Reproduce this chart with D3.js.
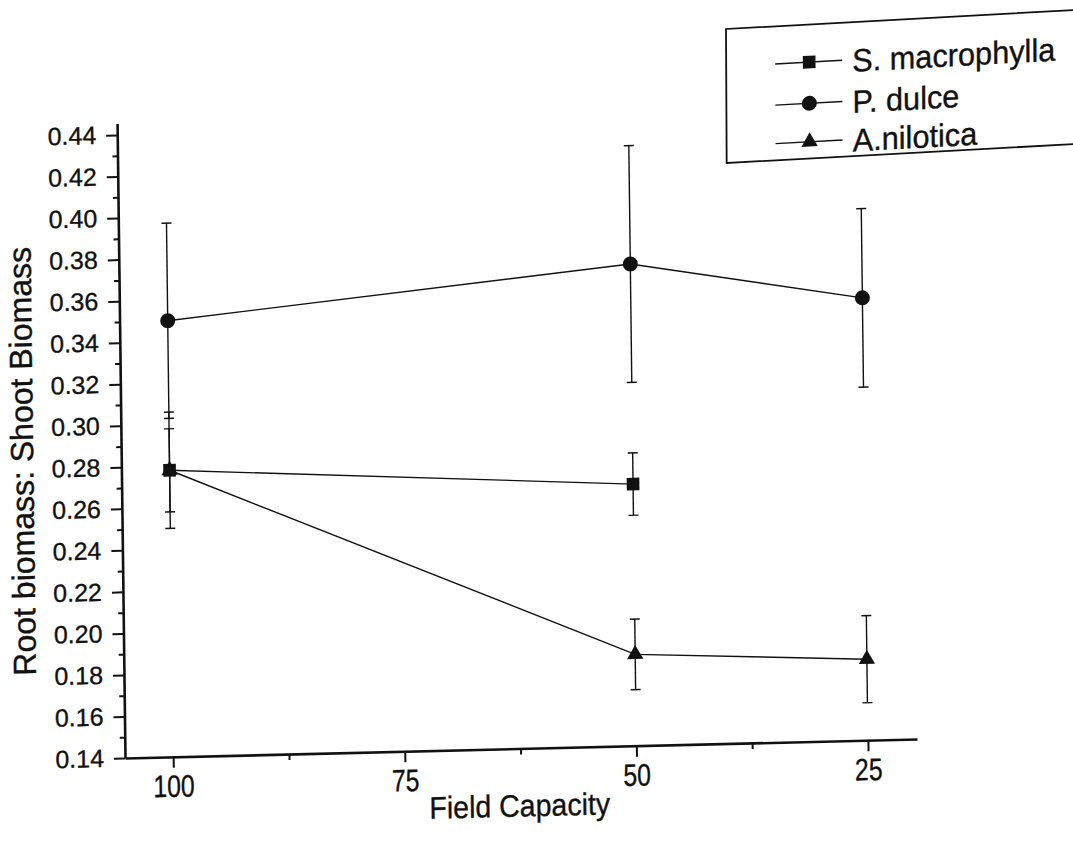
<!DOCTYPE html>
<html>
<head>
<meta charset="utf-8">
<script src="https://cdn.jsdelivr.net/npm/d3@7/dist/d3.min.js"></script>
<style>
  body { margin: 0; background: #fff; }
  svg text { font-family: "Liberation Sans", Arial, sans-serif; fill: #111; stroke: #111; stroke-width: 0.35px; }
</style>
</head>
<body>
<svg width="1073" height="850"></svg>
<script>
// values
const fieldCapacity = [100, 50, 25];
const seriesNames = ["S. macrophylla", "P. dulce", "A.nilotica"];
const sMacrophylla = [0.278, 0.266, null];
const sMacrophyllaErr = [0.020, 0.015, null];
const pDulce = [0.350, 0.372, 0.353];
const pDulceErr = [0.047, 0.057, 0.043];
const aNilotica = [0.278, 0.184, 0.179];
const aNiloticaErr = [0.028, 0.017, 0.021];

const xTicks = [100, 75, 50, 25];
const xMinorTicks = [87.5, 62.5, 37.5];
const yTicks = [0.14, 0.16, 0.18, 0.20, 0.22, 0.24, 0.26, 0.28, 0.30, 0.32, 0.34, 0.36, 0.38, 0.40, 0.42, 0.44];
const yMinorTicks = [0.15, 0.17, 0.19, 0.21, 0.23, 0.25, 0.27, 0.29, 0.31, 0.33, 0.35, 0.37, 0.39, 0.41, 0.43];

const svg = d3.select("svg");

const x = d3.scaleLinear().domain([105.2, 19.7]).range([125, 917]);
const y = d3.scaleLinear().domain([0.14, 0.4455]).range([758, 123.6]);

// the scan is slightly tilted, so the plot frame is skewed a little
const plot = svg.append("g")
    .attr("transform", "translate(125,758) matrix(1,-0.024,0.0125,1,0,0) translate(-125,-758)");

const series = [
    { name: seriesNames[0], values: sMacrophylla, errors: sMacrophyllaErr, symbol: d3.symbolSquare, size: 160 },
    { name: seriesNames[1], values: pDulce, errors: pDulceErr, symbol: d3.symbolCircle, size: 177 },
    { name: seriesNames[2], values: aNilotica, errors: aNiloticaErr, symbol: d3.symbolTriangle, size: 115 }
];

// axes
const yAxis = plot.append("g")
    .attr("transform", "translate(125,0)")
    .call(d3.axisLeft(y).tickValues(yTicks).tickSize(11).tickSizeOuter(0).tickPadding(10).tickFormat(d3.format(".2f")));
yAxis.select(".domain").attr("stroke", "#111").attr("stroke-width", 2.6);
yAxis.selectAll(".tick line").attr("stroke", "#111").attr("stroke-width", 2);
yAxis.selectAll(".tick text").attr("font-size", 25).attr("font-family", null);

const yMinor = plot.append("g")
    .attr("transform", "translate(125,0)")
    .call(d3.axisLeft(y).tickValues(yMinorTicks).tickSize(5).tickSizeOuter(0).tickFormat(""));
yMinor.select(".domain").remove();
yMinor.selectAll(".tick line").attr("stroke", "#111").attr("stroke-width", 2);

const xAxis = plot.append("g")
    .attr("transform", "translate(0,758)")
    .call(d3.axisBottom(x).tickValues(xTicks).tickSize(11).tickSizeOuter(0));
xAxis.select(".domain").attr("stroke", "#111").attr("stroke-width", 2.6);
xAxis.selectAll(".tick line").attr("stroke", "#111").attr("stroke-width", 2);
xAxis.selectAll(".tick text")
    .attr("font-size", 31)
    .attr("font-family", null)
    .attr("y", 40)
    .attr("dy", 0)
    .attr("transform", "scale(0.8,1)");

const xMinor = plot.append("g")
    .attr("transform", "translate(0,758)")
    .call(d3.axisBottom(x).tickValues(xMinorTicks).tickSize(6).tickSizeOuter(0).tickFormat(""));
xMinor.select(".domain").remove();
xMinor.selectAll(".tick line").attr("stroke", "#111").attr("stroke-width", 2);

// axis titles
plot.append("text")
    .attr("transform", "translate(37,459) rotate(-90)")
    .attr("text-anchor", "middle")
    .attr("font-size", 32)
    .text("Root biomass: Shoot Biomass");

plot.append("text")
    .attr("transform", "translate(519,826) scale(0.92,1)")
    .attr("text-anchor", "middle")
    .attr("font-size", 31)
    .text("Field Capacity");

// error bars, lines and markers
const line = d3.line()
    .defined(d => d.value !== null)
    .x(d => x(d.fc))
    .y(d => y(d.value));

series.forEach(s => {
    const pts = fieldCapacity.map((fc, i) => ({ fc: fc, value: s.values[i], err: s.errors[i] }))
        .filter(d => d.value !== null);

    const eb = plot.append("g")
        .attr("stroke", "#111")
        .attr("stroke-width", 1.4)
        .selectAll("g")
        .data(pts)
        .enter().append("g");
    eb.append("line")
        .attr("x1", d => x(d.fc)).attr("x2", d => x(d.fc))
        .attr("y1", d => y(d.value + d.err)).attr("y2", d => y(d.value - d.err));
    eb.append("line")
        .attr("x1", d => x(d.fc) - 5).attr("x2", d => x(d.fc) + 5)
        .attr("y1", d => y(d.value + d.err)).attr("y2", d => y(d.value + d.err));
    eb.append("line")
        .attr("x1", d => x(d.fc) - 5).attr("x2", d => x(d.fc) + 5)
        .attr("y1", d => y(d.value - d.err)).attr("y2", d => y(d.value - d.err));

    plot.append("path")
        .datum(pts)
        .attr("fill", "none")
        .attr("stroke", "#111")
        .attr("stroke-width", 1.4)
        .attr("d", line);
});

series.forEach(s => {
    const pts = fieldCapacity.map((fc, i) => ({ fc: fc, value: s.values[i] }))
        .filter(d => d.value !== null);
    plot.append("g")
        .selectAll("path")
        .data(pts)
        .enter().append("path")
        .attr("transform", d => "translate(" + x(d.fc) + "," + y(d.value) + ")")
        .attr("d", d3.symbol().type(s.symbol).size(s.size))
        .attr("fill", "#111");
});

// legend, tilted a bit more than the plot in the scan
const legend = svg.append("g")
    .attr("transform", "matrix(1,-0.0545,0.005,1,726,29)");

legend.append("rect")
    .attr("x", 0)
    .attr("y", 0)
    .attr("width", 370)
    .attr("height", 134)
    .attr("fill", "none")
    .attr("stroke", "#111")
    .attr("stroke-width", 1.8);

const legendRows = [37.6, 78.8, 117.3];

const item = legend.selectAll(".item")
    .data(series)
    .enter().append("g")
    .attr("class", "item")
    .attr("transform", (d, i) => "translate(0," + legendRows[i] + ")");

item.append("line")
    .attr("x1", 49)
    .attr("x2", 116)
    .attr("stroke", "#111")
    .attr("stroke-width", 1.4);

item.append("path")
    .attr("transform", "translate(83,0)")
    .attr("d", d => d3.symbol().type(d.symbol).size(d.size)())
    .attr("fill", "#111");

item.append("text")
    .attr("transform", "translate(126,12) scale(0.96,1)")
    .attr("font-size", 32)
    .text(d => d.name);
</script>
</body>
</html>
